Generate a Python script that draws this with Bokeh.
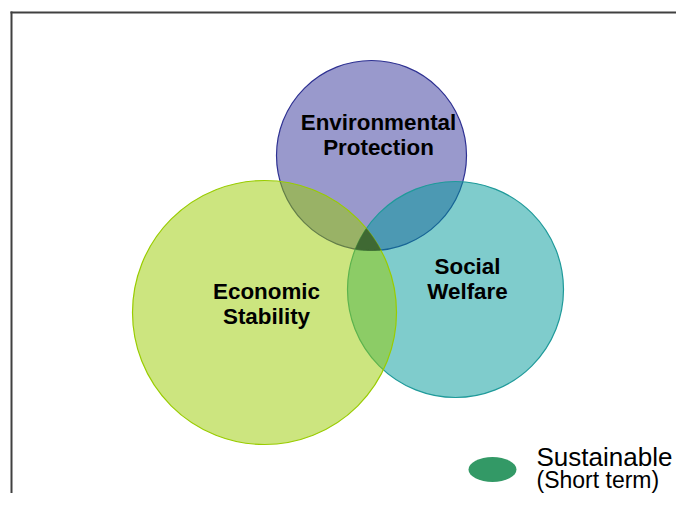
import numpy as np
from bokeh.plotting import figure
from bokeh.models import Range1d
from bokeh.core.properties import value
from bokeh.embed import file_html
from bokeh.resources import INLINE

# ---- data ----
circle_names = ["Environmental Protection", "Social Welfare", "Economic Stability"]
circle_x = [371, 455, 264]
circle_y = [155, 289, 312]
circle_r = [95, 108, 132]
circle_fill = ["#333399", "#009999", "#99cc00"]
circle_line = ["#2e3192", "#1f9a9a", "#99cc00"]

label_lines = [["Environmental", "Protection"], ["Social", "Welfare"], ["Economic", "Stability"]]
label_x = [378, 467, 266]
label_y0 = [122, 266, 291]

legend_label = ["Sustainable", "(Short term)"]
legend_color = "#339966"
core_color = "#3f6933"

W, H = 676, 493
p = figure(width=W, height=H, output_backend="svg", toolbar_location=None,
           x_range=Range1d(0, W), y_range=Range1d(H, 0),
           x_axis_type=None, y_axis_type=None, min_border=0)
p.outline_line_color = None
p.background_fill_color = "white"
p.border_fill_color = "white"

# frame border (left and top, cropped)
p.segment(x0=[11, 10], y0=[11, 12], x1=[11, 700], y1=[520, 12], line_color="#404040", line_width=2)

# circles in drawing order: purple, teal, green
for i in range(3):
    p.circle(x=[circle_x[i]], y=[circle_y[i]], radius=circle_r[i],
             fill_color=circle_fill[i], fill_alpha=0.5,
             line_color=circle_line[i], line_width=1.2)

# triple intersection region computed from the circles
pts = []
t = np.linspace(0, 2 * np.pi, 3000, endpoint=False)
cx, cy, cr = map(np.array, (circle_x, circle_y, circle_r))
for i in range(3):
    px = cx[i] + cr[i] * np.cos(t)
    py = cy[i] + cr[i] * np.sin(t)
    ok = np.ones_like(px, dtype=bool)
    for j in range(3):
        if j != i:
            ok &= (px - cx[j]) ** 2 + (py - cy[j]) ** 2 <= cr[j] ** 2 + 1e-6
    pts.append(np.c_[px[ok], py[ok]])
pts = np.vstack(pts)
m = pts.mean(axis=0)
order = np.argsort(np.arctan2(pts[:, 1] - m[1], pts[:, 0] - m[0]))
pts = pts[order]
p.patch(x=pts[:, 0], y=pts[:, 1], fill_color=core_color, line_color=core_color, line_width=0.5)

# labels
tx, ty, tt = [], [], []
for i in range(3):
    for k, line in enumerate(label_lines[i]):
        tx.append(label_x[i]); ty.append(label_y0[i] + 25 * k); tt.append(line)
p.text(x=tx, y=ty, text=tt, text_font=value("Liberation Sans"), text_font_style="bold",
       text_font_size="22.4px", text_align="center", text_baseline="alphabetic", text_color="#000000")

# legend
p.ellipse(x=[492], y=[469], width=48, height=25, fill_color=legend_color, line_color=None)
p.text(x=[536], y=[456], text=[legend_label[0]], text_font=value("Liberation Sans"),
       text_font_size="26px", text_baseline="alphabetic", text_color="#000000")
p.text(x=[536], y=[479], text=[legend_label[1]], text_font=value("Liberation Sans"),
       text_font_size="23px", text_baseline="alphabetic", text_color="#000000")

open("out.html", "w").write(file_html(p, INLINE))
